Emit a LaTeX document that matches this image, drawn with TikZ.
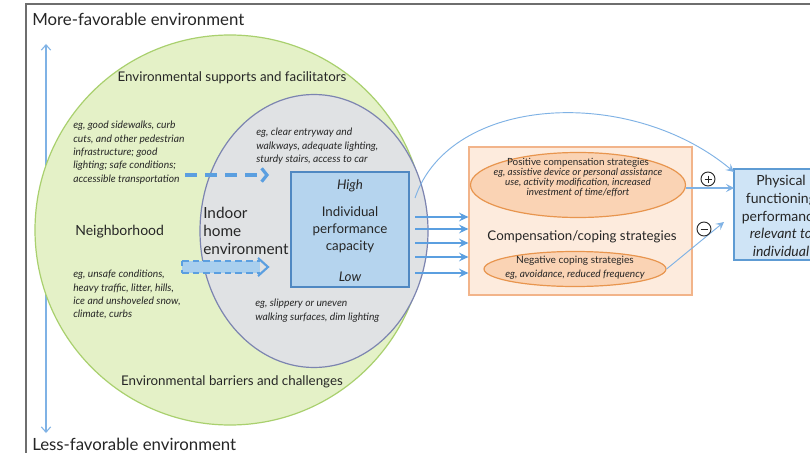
\documentclass[tikz,border=0pt]{standalone}
\usepackage{fontspec}
\setmainfont{Lato}
\usetikzlibrary{arrows.meta,shapes.geometric,calc}
\definecolor{framec}{HTML}{6E6E6E}
\definecolor{grnfill}{HTML}{E4F1C7}
\definecolor{grnline}{HTML}{A9D06E}
\definecolor{gryfill}{HTML}{E0E2E4}
\definecolor{gryline}{HTML}{7C84B0}
\definecolor{capfill}{HTML}{B5D4EE}
\definecolor{capline}{HTML}{4F88C2}
\definecolor{arrblue}{HTML}{5B9FE0}
\definecolor{thinblue}{HTML}{7FB2E5}
\definecolor{orfill}{HTML}{FDEBDD}
\definecolor{orline}{HTML}{F2B48A}
\definecolor{ellfill}{HTML}{FAD3B4}
\definecolor{ellline}{HTML}{E8954E}
\definecolor{physfill}{HTML}{CFE4F6}
\definecolor{physline}{HTML}{5E9BD3}
\definecolor{txt}{HTML}{262626}
\definecolor{blockfill}{HTML}{A9CFEE}
\tikzset{
  fs/.style 2 args={font=\fontsize{#1}{#2}\selectfont},
  lbl/.style={text=txt, inner sep=0pt},
  smallit/.style={lbl, align=left, font=\fontsize{7.7}{10}\selectfont\itshape},
  bluearr/.style={draw=arrblue, -{Stealth[length=7pt,width=6.5pt,inset=2.5pt]}},
  thinarr/.style={draw=thinblue, line width=0.7pt, -{Stealth[length=6pt,width=6pt,inset=2.5pt]}},
  signcirc/.style={circle, draw=txt, line width=0.7pt, minimum size=10.5pt, inner sep=0pt},
}
\begin{document}
\begin{tikzpicture}[x=0.75pt,y=-0.75pt]
\path[use as bounding box] (0,0) rectangle (810,453);
\clip (0,0) rectangle (810,453);
\fill[white] (0,0) rectangle (810,453);
% frame
\draw[framec, line width=1.1pt] (26,480) -- (26,4) -- (840,4);
% titles
\node[lbl, fs={12.6}{14}, anchor=west] (more) at (32,19) {More-favorable environment};
\node[lbl, fs={12.6}{14}, anchor=west] (less) at (32,444) {Less-favorable environment};
\coordinate (vtop) at (46,44);
\coordinate (vbot) at (46,433);
\draw[thinblue, line width=0.8pt, {Straight Barb[length=4pt,width=7pt]}-{Straight Barb[length=4pt,width=7pt]}] (vtop) -- (vbot);
% green circle
\node[ellipse, draw=grnline, fill=grnfill, line width=0.9pt, minimum width=292.5pt, minimum height=292.5pt, inner sep=0pt] (green) at (230,230) {};
% gray ellipse
\node[ellipse, draw=gryline, fill=gryfill, line width=0.9pt, minimum width=171pt, minimum height=204.75pt, inner sep=0pt] (gray) at (314,231) {};
% capacity box
\node[draw=capline, fill=capfill, line width=0.9pt, minimum width=88.5pt, minimum height=86.25pt, inner sep=0pt] (cap) at (350,229.5) {};
\node[lbl, font=\fontsize{10}{11}\selectfont\itshape] (high) at (350,186) {High};
\node[lbl, fs={10}{12.6}, align=center] (capt) at (350,230) {Individual\\performance\\capacity};
\node[lbl, font=\fontsize{10}{11}\selectfont\itshape] (low) at (350,277) {Low};
% labels in circles
\node[lbl, fs={10}{11}] (sup) at (232,78) {Environmental supports and facilitators};
\node[lbl, fs={10}{11}] (bar) at (232,382) {Environmental barriers and challenges};
\node[lbl, fs={10.5}{12}, anchor=west] (nbh) at (75,232) {Neighborhood};
\node[lbl, fs={11.5}{13.2}, align=left, anchor=west] (indoor) at (203,231) {Indoor\\home\\environment};
\node[smallit, anchor=north west] (goodtxt) at (73,121) {eg, good sidewalks, curb\\cuts, and other pedestrian\\infrastructure; good\\lighting; safe conditions;\\accessible transportation};
\node[smallit, anchor=north west] (badtxt) at (73,270) {eg, unsafe conditions,\\heavy traffic, litter, hills,\\ice and unshoveled snow,\\climate, curbs};
\node[smallit, anchor=north west] (cleartxt) at (256,128) {eg, clear entryway and\\walkways, adequate lighting,\\sturdy stairs, access to car};
\node[smallit, anchor=north west] (sliptxt) at (255,299) {eg, slippery or uneven\\walking surfaces, dim lighting};
% dashed arrow (supports)
\coordinate (ds) at (185,175);
\coordinate (de) at (269,175);
\draw[arrblue, line width=2.4pt, dash pattern=on 9pt off 6pt, -{Straight Barb[length=4pt,width=10pt]}] (ds) -- (de);
% wide dashed block arrow (barriers)
\coordinate (bs) at (182,267);
\coordinate (be) at (268,267);
\fill[blockfill] ($(bs)+(0,-6)$) rectangle ($(be)+(-8,6)$);
\draw[arrblue, line width=1.4pt, dash pattern=on 5pt off 3pt] ($(bs)+(0,-6)$) -- ($(be)+(-8,-6)$);
\draw[arrblue, line width=1.4pt, dash pattern=on 5pt off 3pt] ($(bs)+(0,6)$) -- ($(be)+(-8,6)$);
\draw[arrblue, line width=1.4pt, dash pattern=on 4pt off 3pt] ($(bs)+(0,-6)$) -- ($(bs)+(0,6)$);
\draw[arrblue, line width=1.6pt] ($(be)+(-10,-9)$) -- (be) -- ($(be)+(-10,9)$);
% orange box
\node[draw=orline, fill=orfill, line width=0.9pt, minimum width=167.25pt, minimum height=111pt, inner sep=0pt] (orange) at (580.5,221) {};
\node[ellipse, draw=ellline, fill=ellfill, line width=0.9pt, minimum width=161.25pt, minimum height=48.75pt, inner sep=0pt] (pos) at (578,185) {};
\node[lbl, align=center, font=\fontsize{7.4}{7.6}\selectfont] (post) at (578,177.5) {Positive compensation strategies\\\itshape eg, assistive device or personal assistance\\\itshape use, activity modification, increased\\\itshape investment of time/effort};
\node[lbl, fs={10}{12}] (comp) at (582,237) {Compensation/coping strategies};
\node[ellipse, draw=ellline, fill=ellfill, line width=0.9pt, minimum width=136.5pt, minimum height=26.25pt, inner sep=0pt] (neg) at (575,269) {};
\node[lbl, align=center, font=\fontsize{7.6}{10.5}\selectfont] (negt) at (575,268) {Negative coping strategies\\\itshape eg, avoidance, reduced frequency};
% five arrows
\foreach \i/\yy/\w in {1/217/0.8, 2/229/1.0, 3/243/1.2, 4/257/1.5, 5/273/1.9} {
  \coordinate (a\i) at (415,\yy);
  \draw[bluearr, line width=\w pt] (a\i) -- (orange.west |- a\i);
}
% physical box
\node[draw=physline, fill=physfill, line width=0.9pt, minimum width=70.5pt, minimum height=68.25pt, inner sep=0pt] (phys) at (781,214.5) {};
\node[lbl, align=center, fs={10.5}{13.3}] (physt) at (781,216) {Physical\\functioning\\performance\\\itshape relevant to\\\itshape individual};
% curved arrow
\coordinate (cs) at (415,198);
\coordinate (ce) at (734,172);
\draw[thinarr] (cs) .. controls (450,95) and (630,85) .. (ce);
% plus / minus arrows
\coordinate (pe) at (734,188);
\draw[thinarr, line width=0.9pt] (pos.east |- pe) -- (pe);
\coordinate (me) at (724,222);
\draw[thinarr] (neg.east) -- (me);
\node[signcirc] (plus) at (708,179) {};
\draw[txt, line width=0.7pt] ($(plus.center)+(-3.5,0)$) -- ($(plus.center)+(3.5,0)$) ($(plus.center)+(0,-3.5)$) -- ($(plus.center)+(0,3.5)$);
\node[signcirc] (minus) at (704,229) {};
\draw[txt, line width=0.7pt] ($(minus.center)+(-3.5,0)$) -- ($(minus.center)+(3.5,0)$);
\end{tikzpicture}
\end{document}
